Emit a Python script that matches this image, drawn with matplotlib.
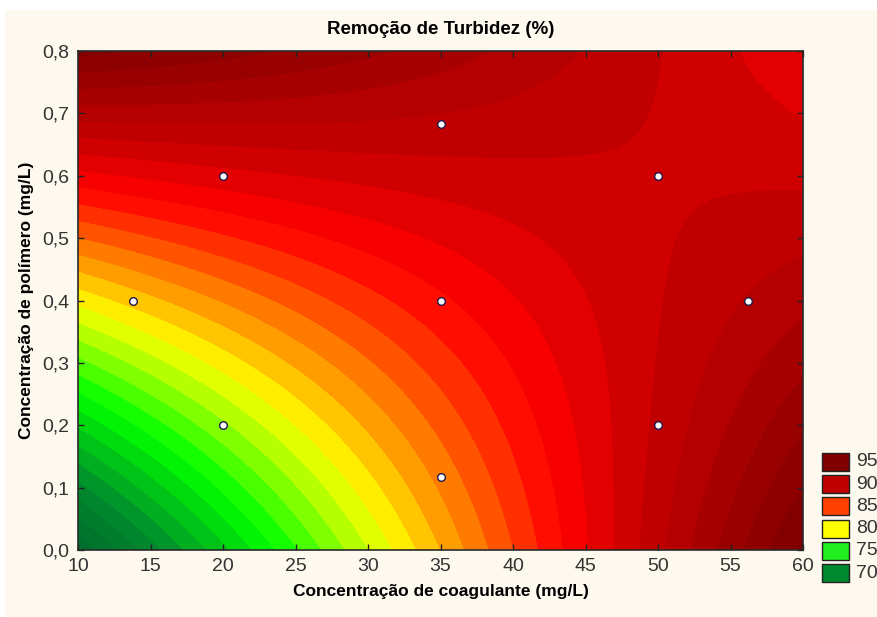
import numpy as np
import matplotlib
matplotlib.use("Agg")
import matplotlib.pyplot as plt
from matplotlib.colors import LinearSegmentedColormap, Normalize
from matplotlib.patches import Rectangle

plt.rcParams['font.family'] = ['Liberation Sans', 'DejaVu Sans']

# experimental runs (central composite design)
design_x = [20, 20, 50, 50, 13.8, 56.2, 35, 35, 35]
design_y = [0.2, 0.6, 0.2, 0.6, 0.4, 0.4, 0.117, 0.683, 0.4]
design_z = [79.0, 87.5, 90.5, 90.0, 80.0, 91.0, 81.8, 90.0, 86.0]

# response read along the border of the region
edge_x = [10, 10, 10, 10, 10, 60, 60, 60, 60, 60, 25, 35, 45, 50, 20, 35, 50]
edge_y = [0.0, 0.2, 0.4, 0.6, 0.8, 0.0, 0.2, 0.4, 0.6, 0.8, 0.0, 0.0, 0.0, 0.0, 0.8, 0.8, 0.8]
edge_z = [64.5, 74.5, 80.5, 88.3, 95.0, 95.5, 94.6, 92.0, 90.0, 87.5,
          77.8, 81.3, 88.6, 90.4, 94.6, 94.0, 90.0]

# colour scale (value -> colour)
scale_values = [62, 70, 75, 80, 85, 87, 90, 95, 100]
scale_colors = ['#004a2a', '#008a2d', '#00ff00', '#ffff00', '#ff4000',
                '#ff0000', '#c80000', '#870000', '#600000']

legend_values = [95, 90, 85, 80, 75, 70]
legend_colors = ['#800000', '#c00000', '#ff4000', '#ffff00', '#20f020', '#008a2d']

x_ticks = [10, 15, 20, 25, 30, 35, 40, 45, 50, 55, 60]
y_ticks = [0.0, 0.1, 0.2, 0.3, 0.4, 0.5, 0.6, 0.7, 0.8]


def terms(x, y):
    x1 = (np.asarray(x, float) - 35) / 15
    x2 = (np.asarray(y, float) - 0.4) / 0.2
    return np.column_stack([np.ones_like(x1), x1, x2, x1**2, x2**2, x1 * x2])


# quadratic response surface
fit_x = design_x + edge_x
fit_y = design_y + edge_y
fit_z = design_z + edge_z
coef, *_ = np.linalg.lstsq(terms(fit_x, fit_y), np.array(fit_z), rcond=None)

gx = np.linspace(10, 60, 400)
gy = np.linspace(0, 0.8, 400)
GX, GY = np.meshgrid(gx, gy)
GZ = (terms(GX.ravel(), GY.ravel()) @ coef).reshape(GX.shape)

span = scale_values[-1] - scale_values[0]
cmap = LinearSegmentedColormap.from_list(
    'turb', [((v - scale_values[0]) / span, c) for v, c in zip(scale_values, scale_colors)])
norm = Normalize(scale_values[0], scale_values[-1])
levels = np.arange(58, 102, 1.0)
band_colors = [cmap(norm(l + 0.5)) for l in levels[:-1]]

W, H = 877, 617
fig = plt.figure(figsize=(W / 100, H / 100), dpi=100, facecolor='white')
fig.add_artist(Rectangle((5 / W, 0), 1, 1 - 10 / H, transform=fig.transFigure,
                         facecolor='#fdf9ee', edgecolor='none', zorder=-10))

ax = fig.add_axes([78 / W, 1 - 550 / H, 725 / W, 499 / H])
cs = ax.contourf(GX, GY, GZ, levels=levels, colors=band_colors)
# fill the hairline gaps between neighbouring bands
cs.set_edgecolor('face')
cs.set_linewidth(0.6)
ax.scatter(design_x, design_y, s=30, c='white', edgecolors='#20164a', linewidths=1.0, zorder=5)

ax.set_xlim(10, 60)
ax.set_ylim(0, 0.8)
ax.set_xticks(x_ticks)
ax.set_yticks(y_ticks)
ax.set_xticklabels([str(t) for t in x_ticks])
ax.set_yticklabels([f'{t:.1f}'.replace('.', ',') for t in y_ticks])
ax.tick_params(direction='in', length=4, width=1, top=True, right=True,
               labelsize=14, colors='#222222', labelcolor='#333333', pad=6)
for s in ax.spines.values():
    s.set_linewidth(1.2)
    s.set_color('#2a2a2a')
    s.set_zorder(6)

ax.set_title('Remoção de Turbidez (%)', fontsize=13.5, fontweight='bold', pad=12)
ax.set_xlabel('Concentração de coagulante (mg/L)', fontsize=12.5, fontweight='bold', labelpad=6)
ax.set_ylabel('Concentração de polímero (mg/L)', fontsize=12.5, fontweight='bold', labelpad=6)

# legend boxes at the lower right
for i, (val, col) in enumerate(zip(legend_values, legend_colors)):
    top = 453 + i * 22.2
    fig.add_artist(Rectangle((822 / W, 1 - (top + 18) / H), 27 / W, 18 / H,
                             transform=fig.transFigure, facecolor=col,
                             edgecolor='#222222', linewidth=1))
    fig.text(856 / W, 1 - (top + 9) / H, str(val), fontsize=14, color='#333333',
             va='center', ha='left')

fig.savefig('out.png', dpi=100, facecolor=fig.get_facecolor())
